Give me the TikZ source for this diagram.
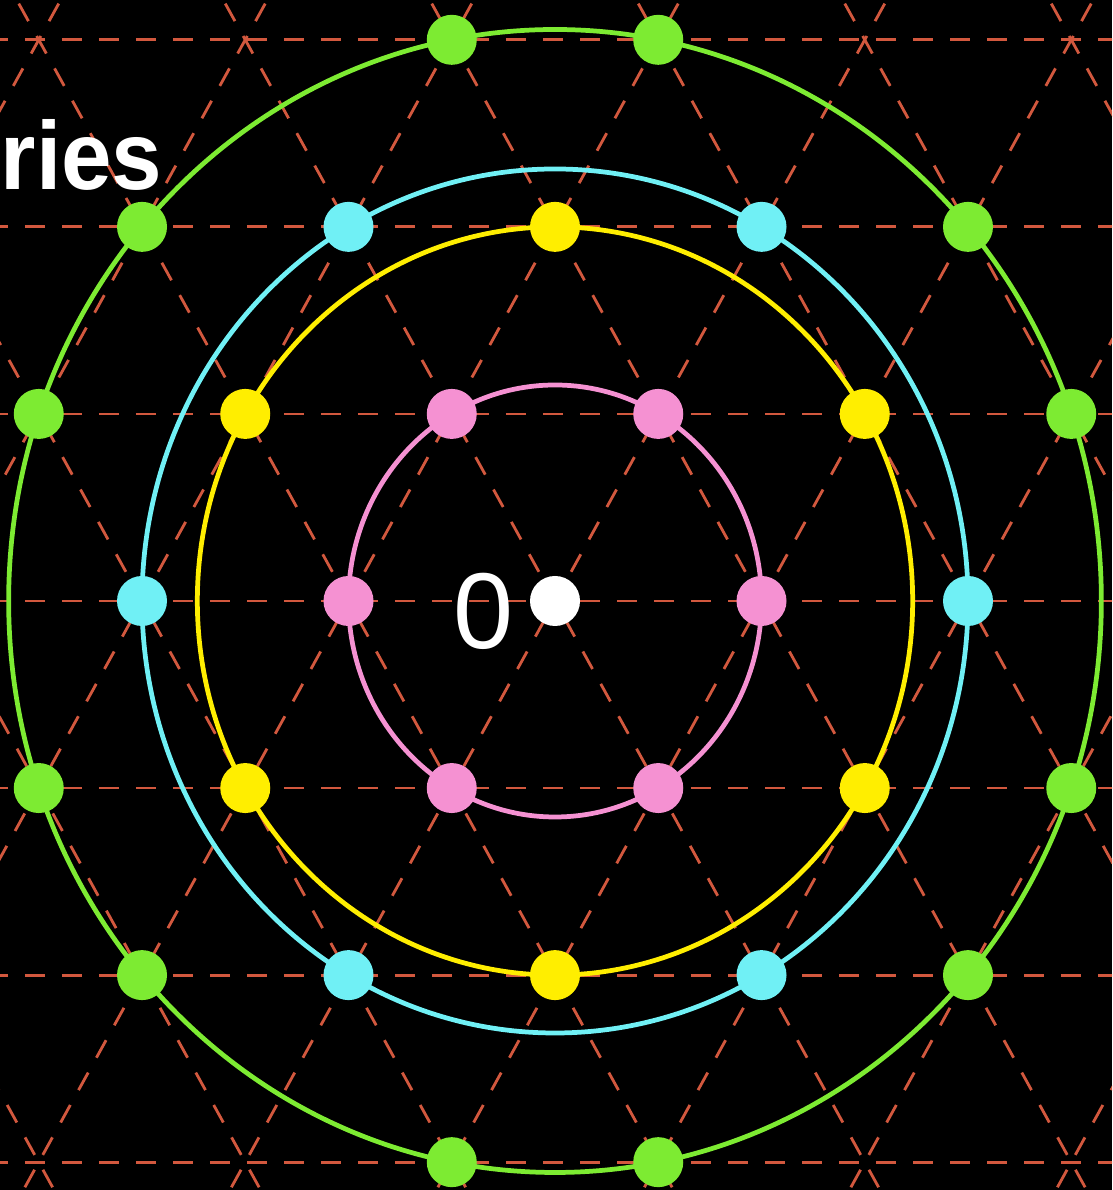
\documentclass[tikz,border=0pt]{standalone}
\usepackage{fontspec}
\setmainfont{Liberation Sans}
\definecolor{latc}{RGB}{210,88,62}
\definecolor{pinkc}{RGB}{245,145,210}
\definecolor{yelc}{RGB}{255,238,0}
\definecolor{cyanc}{RGB}{112,240,245}
\definecolor{greenc}{RGB}{125,235,50}
\begin{document}
\begin{tikzpicture}[
  lat/.style={draw=latc, line width=0.8pt, dash pattern=on 0.2cm off 0.17cm},
  ring/.style={line width=1.35pt},
  dot/.style={circle, inner sep=0pt, minimum size=0.5cm, draw=none, fill=#1},
  lbl/.style={text=white, inner sep=0pt}
]
\fill[black] (0,0) rectangle (11.12,11.9);
\useasboundingbox (0,0) rectangle (11.12,11.9);
\begin{scope}
\clip (0,0) rectangle (11.12,11.9);
\begin{scope}[shift={(5.55,5.89)}, x={(2.065cm,0)}, y={(0,2.16cm)}]
  % triangular lattice
  \foreach \k in {-4,...,4} \draw[lat] (-4,\k*0.8660254) -- (4,\k*0.8660254);
  \foreach \c in {-6,...,6} {
    \draw[lat] (\c,0) ++(240:4) -- ++(60:8);
    \draw[lat] (\c,0) ++(300:4) -- ++(120:8);
  }
  % rings
  \draw[ring, pinkc] (0,0) circle [radius=1];
  \draw[ring, yelc] (0,0) circle [radius=1.7320508];
  \draw[ring, cyanc] (0,0) circle [radius=2];
  \draw[ring, greenc] (0,0) circle [radius=2.6457513];
  % dots
  \foreach \a [count=\i] in {0,60,...,300}
    \node[dot=pinkc] (pink\i) at (\a:1) {};
  \foreach \a [count=\i] in {30,90,...,330}
    \node[dot=yelc] (yel\i) at (\a:1.7320508) {};
  \foreach \a [count=\i] in {0,60,...,300}
    \node[dot=cyanc] (cyan\i) at (\a:2) {};
  \foreach \a [count=\i] in {19.1066,40.8934,79.1066,100.8934,139.1066,160.8934,199.1066,220.8934,259.1066,280.8934,319.1066,340.8934}
    \node[dot=greenc] (green\i) at (\a:2.6457513) {};
  \node[dot=white] (origin) at (0,0) {};
\end{scope}
\end{scope}
\node[lbl, font=\fontsize{30.7}{32}\selectfont] (zero) at (4.83,5.79) {0};
\node[lbl, anchor=base west, font=\fontsize{27.5}{30}\selectfont\bfseries] (title) at (0,10.0) {\scalebox{0.94}[1]{ries}};
\end{tikzpicture}
\end{document}
